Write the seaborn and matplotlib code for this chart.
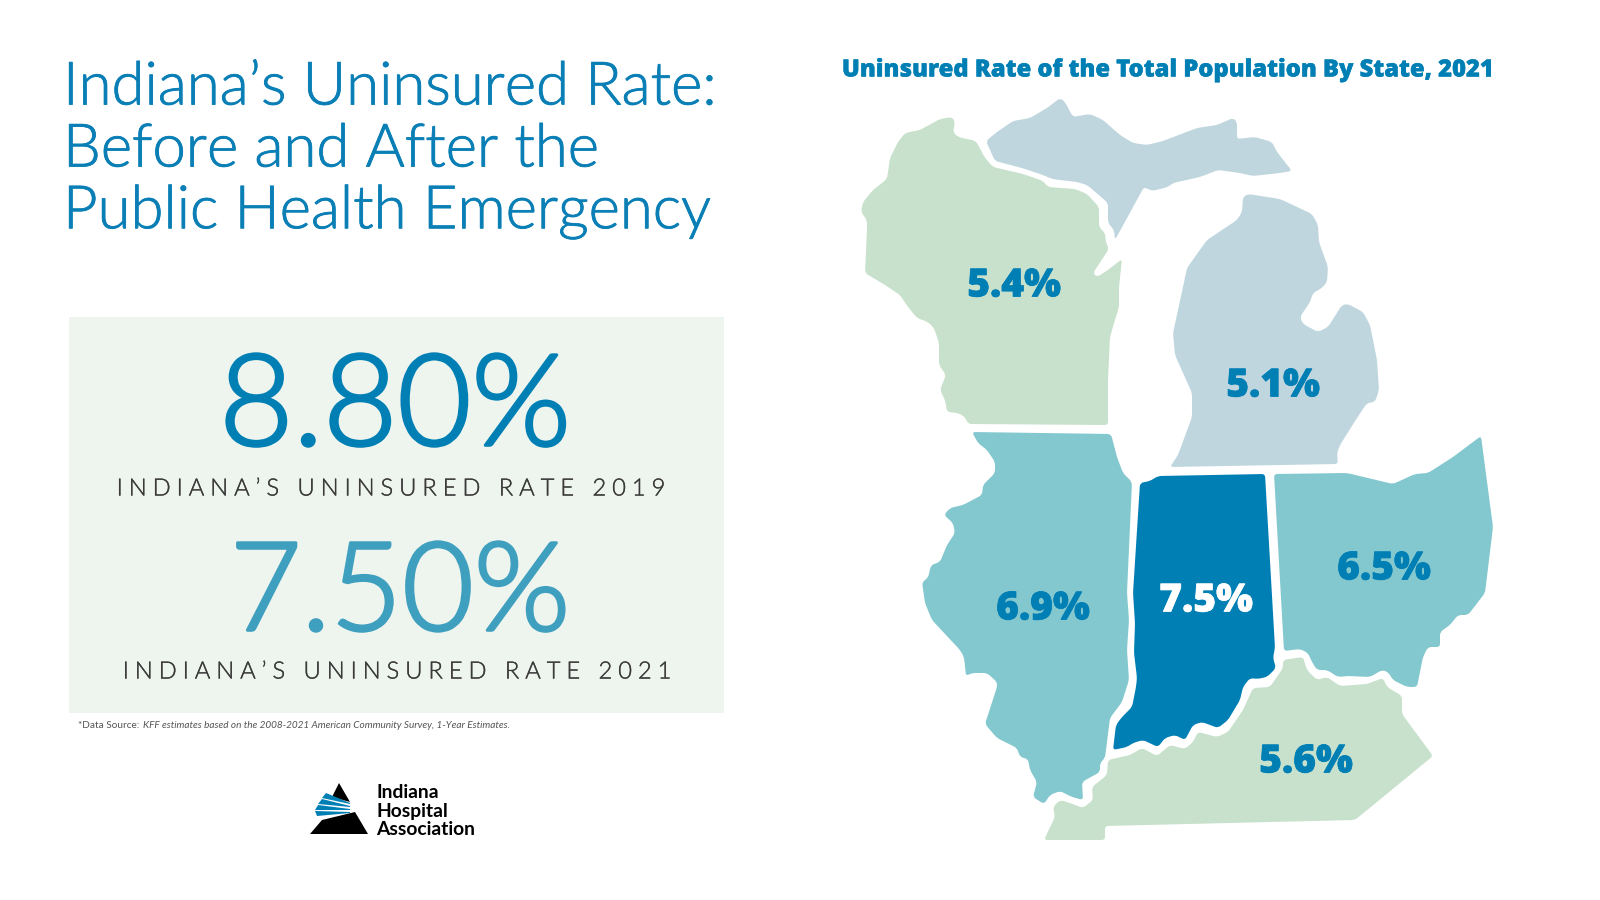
import matplotlib.pyplot as plt
import matplotlib.font_manager as fm
import matplotlib.patheffects as pe
from matplotlib.patches import PathPatch
from matplotlib.path import Path
import numpy as np
import seaborn as sns

# Uninsured rate 2021 by state
states = ["Wisconsin", "Michigan", "Illinois", "Indiana", "Ohio", "Kentucky"]
rates = [5.4, 5.1, 6.9, 7.5, 6.5, 5.6]
state_colors = ["#c8e1cc", "#bfd6df", "#84c8cf", "#007fb5", "#84c8cf", "#c8e1cc"]
label_x = [1014, 1273, 1043, 1206, 1384, 1306]
label_y = [286, 386, 609, 601, 569, 762]

# Outlines, in pixels
wisconsin = [(905,133),(920,130),(940,119),(952,117),(955,122),(953,132),(958,137),(976,141),(985,158),(993,167),
             (1023,174),(1043,181),(1048,187),(1075,189),(1087,194),(1099,207),(1099,227),(1105,233),(1106,243),
             (1109,249),(1093,273),(1097,277),(1108,270),(1122,259),(1119,287),(1119,307),(1115,320),(1110,337),
             (1108,380),(1108,425),(968,424),(965,417),(958,413),(947,412),(945,400),(940,390),(946,375),(939,365),
             (939,343),(934,328),(928,322),(917,318),(908,307),(900,295),(885,285),(865,273),(867,230),(867,220),
             (861,212),(863,202),(873,190),(887,179),(890,158),(898,142)]
upper_michigan = [(986,141),(997,132),(1013,121),(1030,118),(1047,108),(1060,98),(1065,102),(1073,117),(1090,114),
                  (1103,120),(1120,135),(1133,143),(1147,145),(1163,141),(1197,128),(1217,125),(1233,118),(1237,122),
                  (1237,139),(1255,137),(1272,142),(1277,152),(1292,171),(1280,173),(1253,176),(1240,173),(1218,170),
                  (1200,177),(1173,183),(1168,187),(1152,191),(1144,187),(1115,240),(1114,230),(1108,223),(1108,203),
                  (1093,190),(1087,185),(1077,182),(1052,179),(1043,175),(1022,168),(995,161)]
lower_michigan = [(1243,197),(1248,194),(1280,199),(1312,214),(1318,225),(1319,242),(1328,267),(1327,282),(1322,288),
                  (1313,293),(1310,302),(1300,317),(1303,324),(1318,332),(1328,327),(1342,305),(1348,304),(1363,312),
                  (1370,325),(1377,360),(1379,390),(1375,402),(1367,403),(1357,418),(1340,445),(1337,453),(1338,464),
                  (1170,467),(1178,455),(1192,417),(1192,393),(1175,355),(1173,333),(1183,287),(1187,268),(1207,240),
                  (1237,220),(1242,212)]
illinois = [(972,432),(1111,434),(1117,457),(1123,473),(1132,482),(1127,593),(1129,620),(1127,650),(1129,680),(1122,702),
            (1110,718),(1105,758),(1100,763),(1100,772),(1082,782),(1083,800),(1072,797),(1060,791),(1050,795),(1044,804),
            (1033,797),(1037,782),(1030,770),(1028,759),(1020,757),(1017,748),(997,738),(985,724),(997,687),(997,682),
            (987,673),(972,673),(966,676),(964,657),(960,650),(932,620),(925,603),(922,582),(928,578),(931,565),(940,562),
            (947,545),(955,533),(953,523),(944,515),(950,508),(963,505),(982,495),(983,485),(995,473),(995,462),(987,450),
            (978,443)]
indiana = [(1140,483),(1150,481),(1158,476),(1265,474),(1275,648),(1273,658),(1276,668),(1267,677),(1257,679),(1250,678),
           (1243,687),(1240,700),(1228,720),(1218,728),(1202,722),(1193,725),(1185,740),(1175,735),(1165,738),(1158,747),
           (1143,740),(1133,743),(1127,747),(1113,750),(1116,725),(1122,717),(1132,707),(1136,687),(1137,678),(1134,653),
           (1135,623),(1133,593)]
ohio = [(1274,474),(1347,473),(1393,484),(1415,474),(1428,473),(1453,457),(1481,436),(1493,527),(1485,593),(1468,615),
        (1458,615),(1450,625),(1440,632),(1440,647),(1428,647),(1423,657),(1417,687),(1407,687),(1393,680),(1388,672),
        (1382,670),(1370,677),(1348,676),(1338,677),(1327,670),(1317,670),(1312,662),(1308,653),(1300,649),(1284,651)]
kentucky = [(1283,660),(1303,657),(1307,670),(1317,680),(1327,677),(1340,686),(1367,684),(1383,678),(1387,687),(1402,696),
            (1402,714),(1433,756),(1355,820),(1105,826),(1105,840),(1044,840),(1055,817),(1053,807),(1060,800),(1070,803),
            (1083,808),(1093,800),(1092,787),(1107,775),(1108,760),(1130,755),(1142,748),(1157,756),(1170,745),(1185,749),
            (1193,742),(1198,732),(1217,737),(1228,732),(1243,710),(1253,688),(1270,687),(1283,668)]
outlines = [[wisconsin], [upper_michigan, lower_michigan], [illinois], [indiana], [ohio], [kentucky]]

title_lines = ["Indiana’s Uninsured Rate:", "Before and After the", "Public Health Emergency"]
big_numbers = ["8.80%", "7.50%"]
big_labels = ["INDIANA’S UNINSURED RATE 2019", "INDIANA’S UNINSURED RATE 2021"]

# Logo shapes
logo_top = [(339,783),(350,802),(332,797)]
logo_bottom = [(355,812),(368,834),(310,834),(322,820)]
logo_stripes = [[(326,793),(350,803),(350,804),(322,798)],
                [(322,799),(350,806),(350,807),(318,804)],
                [(318,805),(350,809),(350,810),(315,810)],
                [(315,811),(350,812),(350,813),(317,816)]]


def rounded_path(points, cut=3.5):
    # corners are cut a little so the traced outlines do not look angular
    pts = np.array(points, dtype=float)
    n = len(pts)
    verts, codes = [], []
    for i in range(n):
        p, prev, nxt = pts[i], pts[i - 1], pts[(i + 1) % n]
        a = p + (prev - p) * min(0.5, cut / np.linalg.norm(prev - p))
        b = p + (nxt - p) * min(0.5, cut / np.linalg.norm(nxt - p))
        verts += [a, p, b]
        codes += [Path.MOVETO if i == 0 else Path.LINETO, Path.CURVE3, Path.CURVE3]
    verts.append(verts[0])
    codes.append(Path.CLOSEPOLY)
    return Path(verts, codes)


def spaced(text):
    return "\u2005".join(text)


sns.set_theme(style="white")
plt.rcParams["font.family"] = ["Lato", "DejaVu Sans"]

# Lato Light from its file when it is there, matplotlib's weight lookup lands on Hairline
light_files = [f.fname for f in fm.fontManager.ttflist if f.fname.endswith("Lato-Light.ttf")]
light = {"fontproperties": fm.FontProperties(fname=light_files[0])} if light_files else {"family": "Lato"}

fig, ax = plt.subplots(figsize=(16, 9), dpi=100)
fig.subplots_adjust(0, 0, 1, 1)
ax.set_xlim(0, 1600)
ax.set_ylim(900, 0)
ax.axis("off")


def light_text(x, y, s, size, color, stroke=0, **kw):
    t = ax.text(x, y, s, color=color, va="center", **light, **kw)
    t.set_fontsize(size)
    if stroke:
        t.set_path_effects([pe.withStroke(linewidth=stroke, foreground=color)])
    return t


# Title
for i, line in enumerate(title_lines):
    light_text(63, 88 + i * 62, line, 43.1, "#0a7fb6", stroke=0.6, ha="left")

# Panel with the two big numbers
ax.fill([69, 724, 724, 69], [317, 317, 713, 713], color="#eef5ee", lw=0)
light_text(395, 410, big_numbers[0], 92, "#007fb5", stroke=2.2, ha="center")
light_text(392, 489, spaced(big_labels[0]), 17.1, "#3a3a3a", stroke=0.25, ha="center")
light_text(400, 596, big_numbers[1], 89, "#3f9fbe", stroke=2.2, ha="center")
light_text(398, 672, spaced(big_labels[1]), 17.1, "#3a3a3a", stroke=0.25, ha="center")

ax.text(78, 725, "*Data Source: ", fontsize=7.2, color="#555555", ha="left", va="center")
ax.text(143, 725, "KFF estimates based on the 2008-2021 American Community Survey, 1-Year Estimates.",
        fontsize=7.2, color="#555555", style="italic", ha="left", va="center")

# Logo
ax.fill(*zip(*logo_top), color="black", lw=0)
ax.fill(*zip(*logo_bottom), color="black", lw=0)
for stripe in logo_stripes:
    ax.fill(*zip(*stripe), color="#007fb5", lw=0)
for i, word in enumerate(["Indiana", "Hospital", "Association"]):
    ax.text(376, 793 + i * 18.3, word, fontsize=13.9, color="black", fontweight="bold", ha="left", va="center")

# Map
ax.text(1168, 70, "Uninsured Rate of the Total Population By State, 2021", fontsize=17.1, color="#007fb5",
        family="Open Sans", fontweight=800, ha="center", va="center",
        path_effects=[pe.withStroke(linewidth=0.3, foreground="#007fb5")])
for name, shapes, color in zip(states, outlines, state_colors):
    for shape in shapes:
        ax.add_patch(PathPatch(rounded_path(shape), facecolor=color, edgecolor="none", lw=0))
for name, rate, x, y in zip(states, rates, label_x, label_y):
    text_color = "white" if name == "Indiana" else "#007fb5"
    ax.text(x, y, f"{rate}%", fontsize=28, color=text_color, family="Open Sans", fontweight=800,
            ha="center", va="center", path_effects=[pe.withStroke(linewidth=0.5, foreground=text_color)])

fig.savefig("out.png", dpi=100, facecolor="white")
